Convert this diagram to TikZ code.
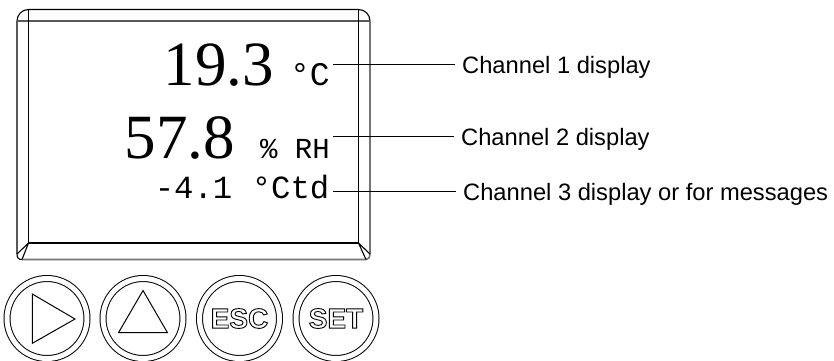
\documentclass[tikz,border=0pt]{standalone}
\usepackage{fontspec}
\setmainfont{Liberation Sans}
\newfontfamily\numfont{Liberation Serif}
\newfontfamily\monofont{Liberation Mono}
\newcommand\outlinedtext[1]{\special{pdf:literal direct 1 Tr 0.9 w}#1\special{pdf:literal direct 0 Tr}}
\begin{document}
\begin{tikzpicture}[x=1pt,y=-1pt,
  frameline/.style={line width=1.1pt, black},
  softline/.style={line width=1.1pt, black!65},
  shadeline/.style={line width=1.6pt, black!55},
  readout/.style={anchor=base east, inner sep=0pt},
  chlabel/.style={anchor=base west, inner xsep=7pt, inner ysep=0pt, font=\fontsize{23.7}{28}\selectfont},
  leader/.style={line width=1.3pt, black},
  button/.style={circle, draw, double, double distance=5pt, line width=1pt, minimum size=80pt, inner sep=0pt},
  keysym/.style={line width=1pt, line join=miter},
  keytext/.style={font=\fontsize{28}{32}\selectfont\bfseries}
]
\useasboundingbox[fill=white] (0,0) rectangle (834,360);

% display frame
\draw[frameline] (17,21) .. controls (17,14.6) and (22.1,9.5) .. (28.5,9.5) -- (358.5,9.5) .. controls (364.9,9.5) and (370,14.6) .. (370,21);
\draw[frameline] (17,21) -- (17,254) .. controls (17,258) and (18.5,259.5) .. (22,259.5);
\draw[shadeline] (22,259.5) -- (366,259.5) .. controls (369,259.5) and (370,257) .. (370,254) -- (370,21);
\draw[softline] (17,21) -- (370,21);
\draw[frameline] (28.5,9.5) -- (28.5,243) -- (358.5,243) -- (358.5,9.5);
\draw[frameline] (28.5,243) -- (17,254) (28.5,243) -- (22,259.5);
\draw[frameline] (358.5,243) -- (370,254) (358.5,243) -- (366,259.5);

% readouts
\node[readout] (d1) at (330,85) {{\numfont\fontsize{63}{63}\selectfont 19.3}\hspace{16pt}{\monofont\fontsize{33}{33}\selectfont °C}};
\node[readout] (d2) at (330,158.5) {{\numfont\fontsize{63}{63}\selectfont 57.8}\hspace{25pt}{\monofont\fontsize{29}{29}\selectfont \% RH}};
\node[readout] (d3) at (329.5,198) {\monofont\fontsize{32.3}{32}\selectfont -4.1 °Ctd};

% labels
\node[chlabel] (l1) at (455,73.3) {Channel 1 display};
\node[chlabel] (l2) at (454,145.5) {Channel 2 display};
\node[chlabel] (l3) at (456,200.3) {Channel 3 display or for messages};

\coordinate (s1) at (333,64.5);
\coordinate (s2) at (333,136.7);
\coordinate (s3) at (333,191.5);
\draw[leader] (s1) -- (s1 -| l1.west);
\draw[leader] (s2) -- (s2 -| l2.west);
\draw[leader] (s3) -- (s3 -| l3.west);

% buttons
\node[button] (b1) at (47,318.5) {};
\node[button] (b2) at (143,318.5) {};
\node[button, keytext] (b3) at (239.5,318.5) {\outlinedtext{ESC}};
\node[button, keytext] (b4) at (336,318.5) {\outlinedtext{SET}};

\draw[keysym] ([shift={(-14.7,-24.5)}]b1.center) -- ([shift={(-14.7,24.8)}]b1.center) -- ([shift={(28,0.5)}]b1.center) -- cycle;
\draw[keysym] ([shift={(0,-28)}]b2.center) -- ([shift={(-24.5,14.2)}]b2.center) -- ([shift={(24.5,14.2)}]b2.center) -- cycle;
\end{tikzpicture}
\end{document}
